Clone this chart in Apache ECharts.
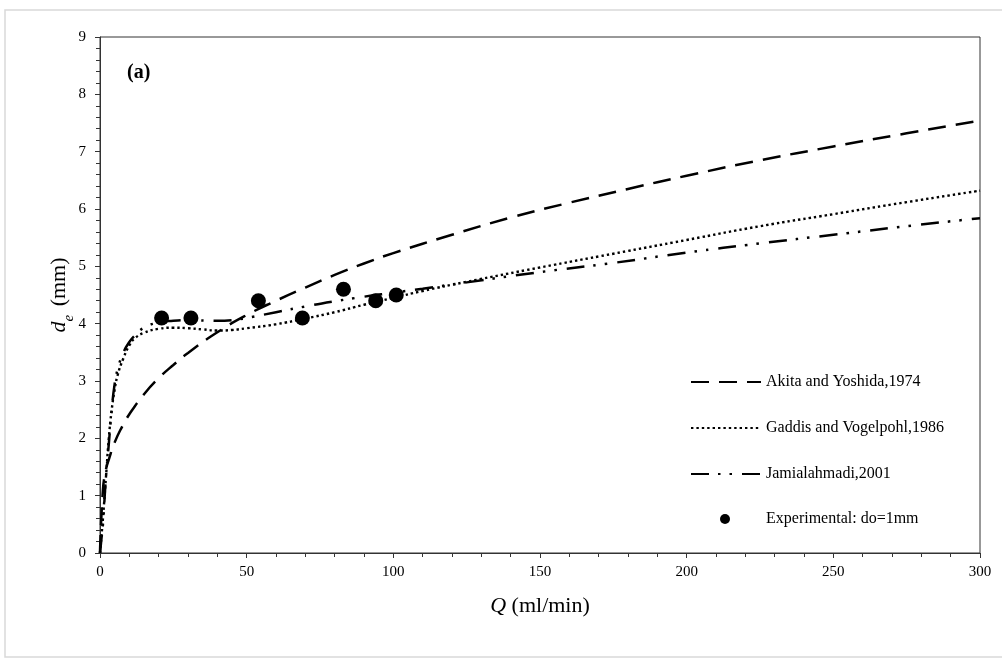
<!DOCTYPE html>
<html>
<head>
<meta charset="utf-8">
<style>
html, body { margin: 0; padding: 0; background: #fff; }
#main { width: 1002px; height: 658px; }
</style>
<script src="https://cdn.jsdelivr.net/npm/echarts@6/dist/echarts.min.js"></script>
</head>
<body>
<div id="main"></div>
<script>
// data
var akitaQ = [0, 1, 2, 3, 5, 7.5, 10, 15, 20, 25, 30, 40, 50, 60, 70, 80, 90, 100, 120, 140, 160, 180, 200, 225, 250, 275, 300];
var akitaD = [0, 1.1, 1.45, 1.63, 1.93, 2.2, 2.42, 2.77, 3.05, 3.28, 3.49, 3.85, 4.15, 4.4, 4.63, 4.85, 5.05, 5.23, 5.55, 5.85, 6.11, 6.35, 6.58, 6.85, 7.09, 7.32, 7.54];

var gaddisQ = [0, 0.5, 1, 2, 3, 4, 5, 6, 8, 10, 12, 15, 20, 25, 30, 35, 40, 45, 50, 60, 70, 80, 90, 100, 110, 125, 150, 175, 200, 225, 250, 275, 300];
var gaddisD = [0, 0.3, 0.6, 1.3, 2.0, 2.5, 2.85, 3.1, 3.4, 3.62, 3.75, 3.84, 3.91, 3.93, 3.92, 3.9, 3.88, 3.89, 3.92, 3.99, 4.09, 4.2, 4.33, 4.45, 4.57, 4.73, 4.98, 5.22, 5.46, 5.7, 5.91, 6.12, 6.32];

var jamiQ = [0, 0.5, 1, 2, 3, 4, 5, 6, 8, 10, 12, 15, 20, 25, 30, 40, 45, 50, 60, 70, 80, 90, 100, 110, 125, 150, 175, 200, 225, 250, 275, 300];
var jamiD = [0, 0.25, 0.5, 1.3, 1.9, 2.5, 2.95, 3.2, 3.5, 3.68, 3.8, 3.93, 4.02, 4.05, 4.06, 4.05, 4.06, 4.1, 4.2, 4.3, 4.39, 4.47, 4.54, 4.61, 4.72, 4.9, 5.06, 5.24, 5.4, 5.55, 5.7, 5.84];

var expQ = [21, 31, 54, 69, 83, 94, 101];
var expD = [4.1, 4.1, 4.4, 4.1, 4.6, 4.4, 4.5];

var seriesNames = ['Akita and Yoshida,1974', 'Gaddis and Vogelpohl,1986', 'Jamialahmadi,2001', 'Experimental: do=1mm'];

function pairs(xs, ys) {
    var out = [];
    for (var i = 0; i < xs.length; i++) {
        out.push([xs[i], ys[i]]);
    }
    return out;
}

var serifFont = '"Liberation Serif", "Times New Roman", serif';

var myChart = echarts.init(document.getElementById('main'));

var option = {
    backgroundColor: '#fff',
    animation: false,
    textStyle: {
        fontFamily: serifFont,
        color: '#000'
    },
    title: {
        text: '(a)',
        left: 122,
        top: 58,
        textStyle: {
            fontFamily: serifFont,
            fontWeight: 'bold',
            fontSize: 20,
            color: '#000'
        }
    },
    graphic: [{
        type: 'rect',
        silent: true,
        shape: { x: 5, y: 10, width: 1010, height: 647 },
        style: { fill: 'none', stroke: '#d9d9d9', lineWidth: 1.5 }
    }],
    legend: [{
        // the three model lines, no marker in the icon
        orient: 'vertical',
        left: 685,
        top: 369,
        itemWidth: 70,
        itemHeight: 14,
        itemGap: 30,
        data: seriesNames.slice(0, 3),
        itemStyle: { opacity: 0, borderWidth: 0 },
        textStyle: { fontFamily: serifFont, fontSize: 16, color: '#000' }
    }, {
        // experimental dot, smaller and centred under the lines
        orient: 'vertical',
        left: 715,
        top: 506,
        itemWidth: 10,
        itemHeight: 10,
        data: [seriesNames[3]],
        textStyle: { fontFamily: serifFont, fontSize: 16, color: '#000', padding: [0, 0, 0, 31] }
    }],
    grid: {
        left: 100,
        right: 22,
        top: 37,
        bottom: 105,
        show: true,
        borderColor: '#333',
        borderWidth: 1,
        backgroundColor: 'transparent'
    },
    xAxis: {
        type: 'value',
        min: 0,
        max: 300,
        interval: 50,
        name: '{i|Q} (ml/min)',
        nameLocation: 'middle',
        nameGap: 42,
        nameTextStyle: {
            fontFamily: serifFont,
            fontSize: 22,
            color: '#000',
            rich: {
                i: { fontFamily: serifFont, fontSize: 22, fontStyle: 'italic', color: '#000' }
            }
        },
        axisLine: { lineStyle: { color: '#333', width: 1 } },
        axisTick: { show: true, inside: false, length: 5, lineStyle: { color: '#333' } },
        minorTick: { show: true, splitNumber: 5, length: 4, lineStyle: { color: '#333' } },
        splitLine: { show: false },
        axisLabel: { margin: 12, fontFamily: serifFont, fontSize: 15, color: '#000' }
    },
    yAxis: {
        type: 'value',
        min: 0,
        max: 9,
        interval: 1,
        name: '{i|d}{sub|e} (mm)',
        nameLocation: 'middle',
        nameGap: 30,
        nameMoveOverlap: false,
        nameTextStyle: {
            fontFamily: serifFont,
            fontSize: 22,
            color: '#000',
            rich: {
                i: { fontFamily: serifFont, fontSize: 22, fontStyle: 'italic', color: '#000' },
                sub: { fontFamily: serifFont, fontSize: 15, fontStyle: 'italic', color: '#000', verticalAlign: 'bottom', padding: [0, 3, -7, 0] }
            }
        },
        axisLine: { show: true, lineStyle: { color: '#333', width: 1 } },
        axisTick: { show: true, inside: false, length: 5, lineStyle: { color: '#333' } },
        minorTick: { show: true, splitNumber: 5, length: 4, lineStyle: { color: '#333' } },
        splitLine: { show: false },
        axisLabel: { margin: 14, fontFamily: serifFont, fontSize: 15, color: '#000' }
    },
    series: [{
        name: seriesNames[0],
        type: 'line',
        smooth: true,
        symbol: 'none',
        data: pairs(akitaQ, akitaD),
        lineStyle: { color: '#000', width: 2.5, type: [18, 10] },
        itemStyle: { color: '#000' }
    }, {
        name: seriesNames[1],
        type: 'line',
        smooth: true,
        symbol: 'none',
        data: pairs(gaddisQ, gaddisD),
        lineStyle: { color: '#000', width: 2.4, type: [2.4, 3] },
        itemStyle: { color: '#000' }
    }, {
        name: seriesNames[2],
        type: 'line',
        smooth: true,
        symbol: 'none',
        data: pairs(jamiQ, jamiD),
        lineStyle: { color: '#000', width: 2.5, type: [18, 9, 2.5, 9, 2.5, 10] },
        itemStyle: { color: '#000' }
    }, {
        name: seriesNames[3],
        type: 'scatter',
        symbol: 'circle',
        symbolSize: 15,
        z: 5,
        data: pairs(expQ, expD),
        itemStyle: { color: '#000', opacity: 1 }
    }]
};

myChart.setOption(option);
</script>
</body>
</html>
